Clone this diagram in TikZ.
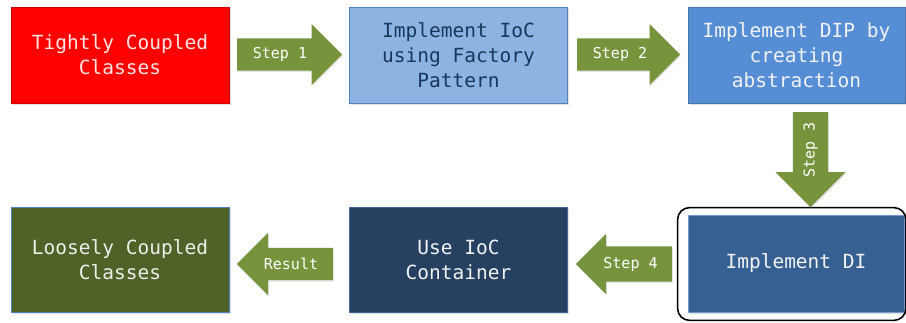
\documentclass[tikz,border=0pt]{standalone}
\usepackage{fontspec}
\setmonofont{DejaVu Sans Mono}
\usetikzlibrary{shapes.arrows,shadows}

\definecolor{redbox}{HTML}{FF0000}
\definecolor{lightbluebox}{HTML}{8DB3E2}
\definecolor{midbluebox}{HTML}{558ED5}
\definecolor{bluebox}{HTML}{376092}
\definecolor{navybox}{HTML}{254061}
\definecolor{olivebox}{HTML}{4F6228}
\definecolor{arrowgreen}{HTML}{77933C}
\definecolor{edgeblue}{HTML}{4F81BD}
\definecolor{darktext}{HTML}{17375E}

\tikzset{
  stage/.style={rectangle, draw=edgeblue, line width=0.8pt, align=center,
    font=\ttfamily\fontsize{19.5}{25}\selectfont,
    drop shadow={shadow xshift=1.5pt, shadow yshift=-2pt, opacity=0.25}},
  % empty arrow nodes: the shaft thickness comes from the inner sep
  fatarrow/.style={single arrow, fill=arrowgreen, draw=none, anchor=tail,
    text height=0pt, text depth=0pt, text width=0pt,
    single arrow tip angle=90,
    drop shadow={shadow xshift=1pt, shadow yshift=-1.5pt, opacity=0.2}},
  harrow/.style={fatarrow, inner xsep=0pt, inner ysep=#1},
  varrow/.style={fatarrow, inner ysep=0pt, inner xsep=#1},
  steptext/.style={text=white, font=\ttfamily\fontsize{15}{16}\selectfont, inner sep=0pt}
}

\begin{document}
\begin{tikzpicture}[x=1pt,y=-1pt]
\useasboundingbox (0,0) rectangle (906,322);

% process stages
\node[stage, fill=redbox, draw=red!80!black, text=red!10!white,
      minimum width=218pt, minimum height=96pt] (tight) at (120,55)
      {Tightly Coupled\\Classes};
\node[stage, fill=lightbluebox, text=darktext,
      minimum width=218pt, minimum height=96pt] (factory) at (458.5,55)
      {Implement IoC\\using Factory\\Pattern};
\node[stage, fill=midbluebox, draw=edgeblue!90!black, text=white!95!black,
      minimum width=217pt, minimum height=96pt] (dip) at (796.5,55)
      {Implement DIP by\\creating\\abstraction};
\node[stage, fill=bluebox, draw=edgeblue!80!white, text=white!95!black,
      minimum width=216pt, minimum height=97pt] (di) at (796,263.5)
      {Implement DI};
\node[stage, fill=navybox, draw=edgeblue!60!navybox, text=white!95!black,
      minimum width=218pt, minimum height=105pt] (container) at (458.5,259.5)
      {Use IoC\\Container};
\node[stage, fill=olivebox, text=olivebox!10!white,
      minimum width=218pt, minimum height=105pt] (loose) at (120,259.5)
      {Loosely Coupled\\Classes};

% highlight around the final DI stage
\draw[black, line width=1.6pt, rounded corners=12pt]
  ([xshift=-10pt,yshift=7pt]di.north west) rectangle ([xshift=1.5pt,yshift=-8pt]di.south east);

% step arrows, placed by their tails
\node[harrow=16pt, minimum height=105pt,
      single arrow head extend=14.5pt] (a1) at (237,54.5) {};
\node[steptext] at ([xshift=43pt]a1.tail) {Step 1};

\node[harrow=16pt, minimum height=103pt,
      single arrow head extend=14.5pt] (a2) at (577,54.5) {};
\node[steptext] at ([xshift=43pt]a2.tail) {Step 2};

\node[varrow=17.5pt, minimum height=95pt,
      single arrow head extend=17.5pt, shape border rotate=270] (a3) at (810.5,112) {};
\node[steptext, rotate=90] at ([yshift=-38pt]a3.tail) {Step 3};

\node[harrow=17.5pt, minimum height=96pt,
      single arrow head extend=12.5pt, shape border rotate=180] (a4) at (672,264) {};
\node[steptext] at ([xshift=-41.5pt]a4.tail) {Step 4};

\node[harrow=16pt, minimum height=96pt,
      single arrow head extend=15pt, shape border rotate=180] (a5) at (333,264) {};
\node[steptext] at ([xshift=-42pt]a5.tail) {Result};

\end{tikzpicture}
\end{document}
